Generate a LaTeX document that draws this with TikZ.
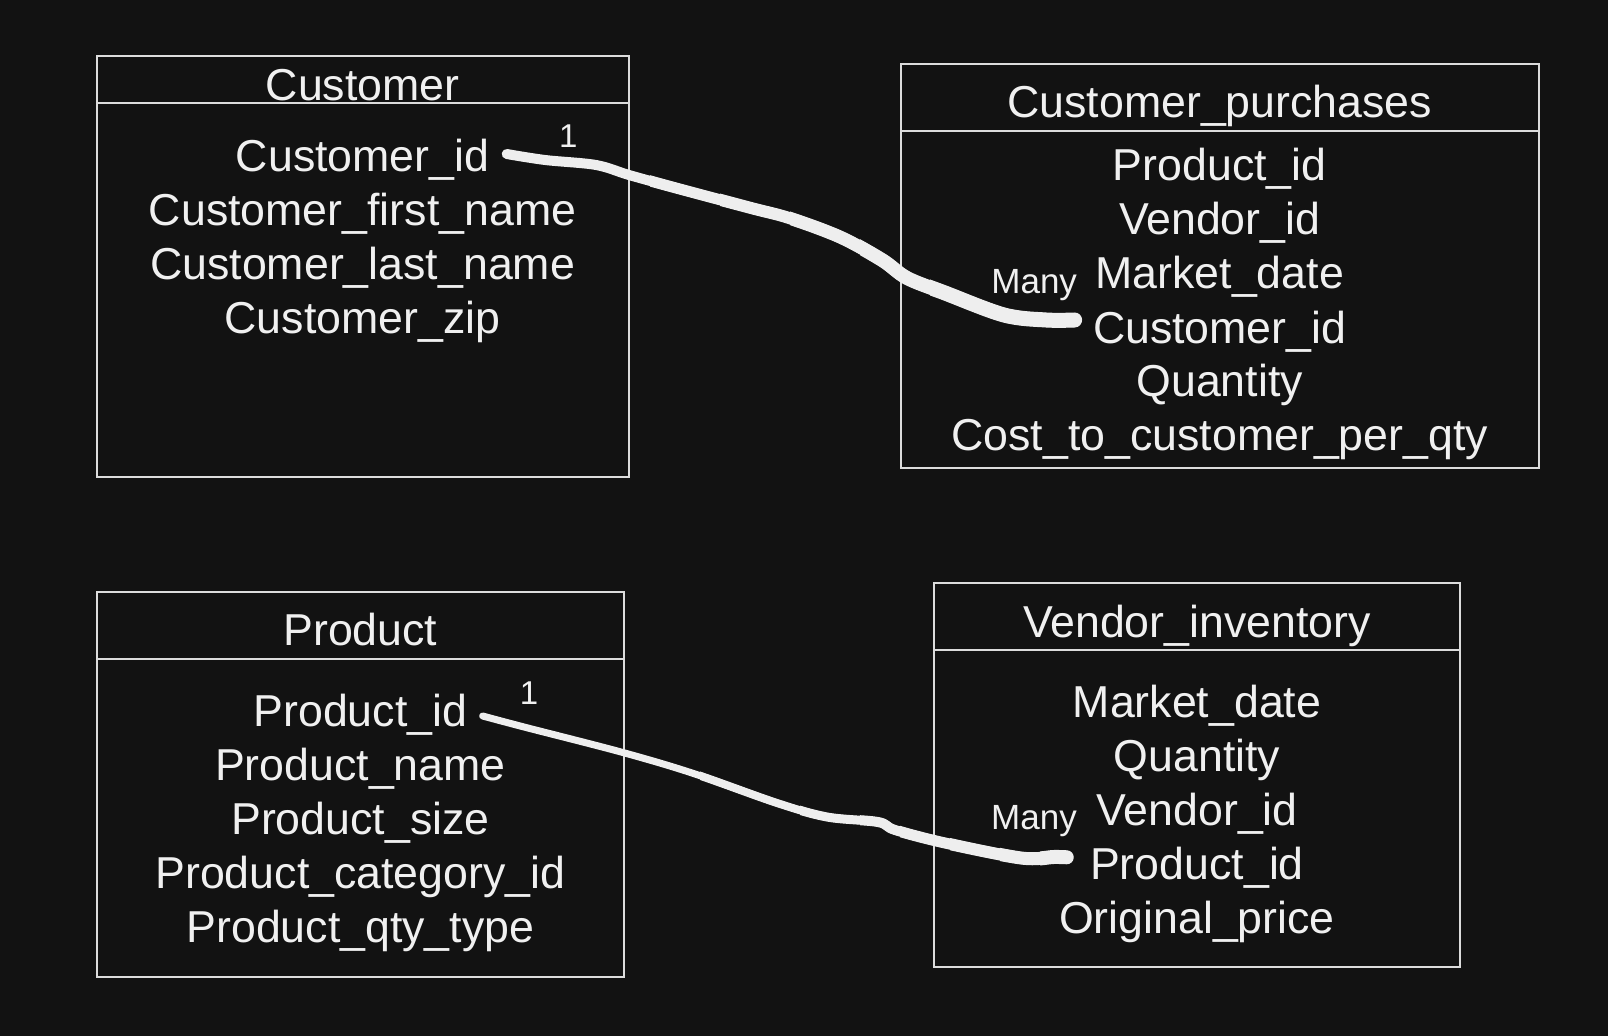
\documentclass[tikz,border=0pt]{standalone}
\usepackage{fontspec}
\setmainfont{Liberation Sans}
\usetikzlibrary{calc}
\definecolor{bg}{HTML}{121212}
\definecolor{fg}{HTML}{F0F0F0}
\definecolor{edgec}{HTML}{DCDCDC}
\definecolor{wirec}{HTML}{EEEEEE}
\newcommand\wireA{plot[smooth, tension=0.55] coordinates {(s1) (545,160) (596,165) (629,175) (676,188) (751,208) (789,218) (840,237) (882,260) (907,278) (945,293) (1004,315) (1046,320) (e1)}}
\newcommand\wireB{plot[smooth, tension=0.55] coordinates {(s2) (524,727) (621,752) (692,773) (777,803) (827,817) (878,822) (895,830) (945,843) (1021,858) (1054,857) (e2)}}
\begin{document}
\begin{tikzpicture}[x=0.5pt,y=-0.5pt,
  field/.style={anchor=base, inner sep=0pt, text=fg, font=\fontsize{22.35}{26}\selectfont},
  many/.style={anchor=base, inner sep=0pt, text=fg, font=\fontsize{17.5}{20}\selectfont},
  one/.style={anchor=base, inner sep=0pt, text=fg, font=\fontsize{16.5}{19}\selectfont},
  frame/.style={draw=edgec, line width=1pt},
  wire/.style={draw=wirec, line cap=round, line join=round}]
\fill[bg] (0,0) rectangle (1608,1036);
\useasboundingbox (0,0) rectangle (1608,1036);

% Customer
\draw[frame] (96.7,56) rectangle (628.5,477);
\draw[frame] (96.7,103) -- (628.5,103);
\node[field] (ct) at (362.6,101) {Customer};
\node[field] (c1) at (362.6,172) {Customer\_id};
\node[field] (c2) at (362.6,226) {Customer\_first\_name};
\node[field] (c3) at (362.6,280) {Customer\_last\_name};
\node[field] (c4) at (362.6,333.5) {Customer\_zip};

% Customer_purchases
\draw[frame] (900.7,64) rectangle (1538.7,468);
\draw[frame] (900.7,131.3) -- (1538.7,131.3);
\node[field] (pt) at (1219.7,118) {Customer\_purchases};
\node[field] (p1) at (1219.7,181) {Product\_id};
\node[field] (p2) at (1219.7,235) {Vendor\_id};
\node[field] (p3) at (1219.7,289) {Market\_date};
\node[field] (p4) at (1219.7,343.5) {Customer\_id};
\node[field] (p5) at (1219.7,397) {Quantity};
\node[field] (p6) at (1219.7,451) {Cost\_to\_customer\_per\_qty};

% Product
\draw[frame] (96.8,592.3) rectangle (624,976.7);
\draw[frame] (96.8,659.3) -- (624,659.3);
\node[field] (rt) at (360.4,645.5) {Product};
\node[field] (r1) at (360.4,727) {Product\_id};
\node[field] (r2) at (360.4,781) {Product\_name};
\node[field] (r3) at (360.4,834.7) {Product\_size};
\node[field] (r4) at (360.4,888.7) {Product\_category\_id};
\node[field] (r5) at (360.4,942.7) {Product\_qty\_type};

% Vendor_inventory
\draw[frame] (934.3,582.7) rectangle (1460,967.3);
\draw[frame] (934.3,650) -- (1460,650);
\node[field] (vt) at (1197,637.5) {Vendor\_inventory};
\node[field] (v1) at (1197,718) {Market\_date};
\node[field] (v2) at (1197,772) {Quantity};
\node[field] (v3) at (1197,826) {Vendor\_id};
\node[field] (v4) at (1197,880) {Product\_id};
\node[field] (v5) at (1197,933.5) {Original\_price};

% cardinality labels
\node[one] (l1) at (568.4,147.3) {1};
\node[many] (l2) at (1034.2,293.3) {Many};
\node[one] (l3) at (529,705) {1};
\node[many] (l4) at (1034,829.3) {Many};

% connector Customer_id -> Customer_id (gradually thickening)
\coordinate (s1) at ($(c1.base east)+(17,-18)$);
\coordinate (e1) at ($(p4.base west)+(-18,-23.5)$);
\foreach \w/\xs in {5/0, 5.5/650, 6/720, 6.5/790, 7/860, 7.5/930}{
  \begin{scope}
    \clip (\xs,0) rectangle (1300,1036);
    \draw[wire, line width=\w pt] \wireA;
  \end{scope}
}

% connector Product_id -> Product_id (gradually thickening)
\coordinate (s2) at ($(r1.base east)+(15,-11)$);
\coordinate (e2) at ($(v4.base west)+(-23,-22.7)$);
\foreach \w/\xs in {3.5/0, 4/700, 4.5/800, 5/860, 5.5/900, 6/950, 6.5/1000, 7/1040}{
  \begin{scope}
    \clip (\xs,0) rectangle (1300,1036);
    \draw[wire, line width=\w pt] \wireB;
  \end{scope}
}
\end{tikzpicture}
\end{document}
